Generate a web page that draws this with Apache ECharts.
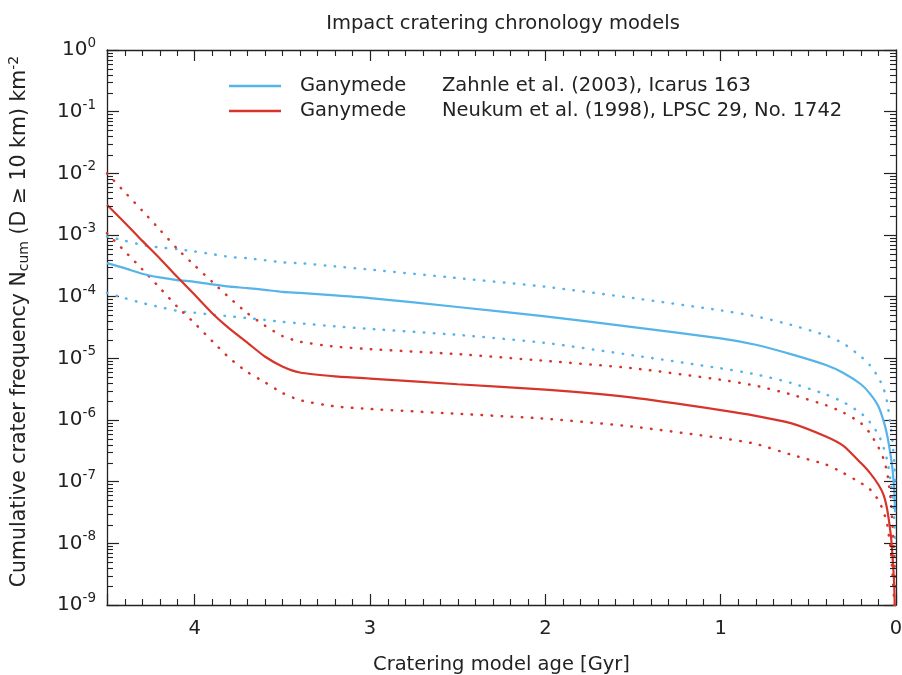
<!DOCTYPE html>
<html>
<head>
<meta charset="utf-8">
<script src="https://cdn.jsdelivr.net/npm/echarts@6/dist/echarts.min.js"></script>
<style>html,body{margin:0;padding:0;background:#fff}#c{width:902px;height:675px}</style>
</head>
<body>
<div id="c"></div>
<script>
// ---- data ----
const ages = [4.5, 4.4, 4.3, 4.2, 4.1, 4.0, 3.9, 3.8, 3.7, 3.6, 3.5, 3.4, 3.2, 3.0, 2.5, 2.0, 1.5, 1.0, 0.8, 0.6, 0.4, 0.3, 0.2, 0.15, 0.1, 0.07, 0.05, 0.03, 0.02, 0.01, 0.005];

const zahnle      = [3.5e-4, 2.9e-4, 2.35e-4, 2.05e-4, 1.86e-4, 1.74e-4, 1.58e-4, 1.45e-4, 1.38e-4, 1.29e-4, 1.2e-4, 1.15e-4, 1.05e-4, 9.5e-5, 6.8e-5, 4.8e-5, 3.2e-5, 2.1e-5, 1.66e-5, 1.17e-5, 7.8e-6, 5.8e-6, 3.8e-6, 2.7e-6, 1.66e-6, 9.5e-7, 5.6e-7, 2.6e-7, 1.6e-7, 7.1e-8, 3.2e-8];
const zahnleUpper = [9.5e-4, 8.1e-4, 6.9e-4, 6.3e-4, 5.9e-4, 5.4e-4, 4.9e-4, 4.4e-4, 4.2e-4, 3.9e-4, 3.6e-4, 3.5e-4, 3.1e-4, 2.75e-4, 2.0e-4, 1.45e-4, 9.5e-5, 6.0e-5, 4.8e-5, 3.5e-5, 2.35e-5, 1.74e-5, 1.07e-5, 7.8e-6, 4.9e-6, 3.2e-6, 1.9e-6, 7.9e-7, 4.5e-7, 2.0e-7, 1.0e-7];
const zahnleLower = [1.15e-4, 9.5e-5, 7.9e-5, 6.8e-5, 5.9e-5, 5.5e-5, 5.1e-5, 4.8e-5, 4.5e-5, 4.2e-5, 3.9e-5, 3.7e-5, 3.3e-5, 3.0e-5, 2.4e-5, 1.78e-5, 1.12e-5, 6.9e-6, 5.5e-6, 4.0e-6, 2.6e-6, 1.95e-6, 1.29e-6, 9.3e-7, 5.8e-7, 3.5e-7, 2.2e-7, 1.0e-7, 5.6e-8, 2.5e-8, 1.0e-8];

const neukum      = [3.1e-3, 1.6e-3, 8.1e-4, 4.2e-4, 2.1e-4, 1.07e-4, 5.4e-5, 3.0e-5, 1.8e-5, 1.07e-5, 7.4e-6, 5.9e-6, 5.1e-6, 4.7e-6, 3.8e-6, 3.1e-6, 2.3e-6, 1.45e-6, 1.17e-6, 8.9e-7, 5.4e-7, 3.8e-7, 2.0e-7, 1.4e-7, 8.9e-8, 6.0e-8, 3.5e-8, 1.4e-8, 6.3e-9, 2.0e-9, 5.0e-10];
const neukumUpper = [1.0e-2, 5.0e-3, 2.5e-3, 1.23e-3, 6.0e-4, 3.2e-4, 1.74e-4, 9.5e-5, 5.4e-5, 3.4e-5, 2.3e-5, 1.86e-5, 1.55e-5, 1.41e-5, 1.17e-5, 9.1e-6, 6.9e-6, 4.5e-6, 3.6e-6, 2.6e-6, 1.74e-6, 1.32e-6, 8.9e-7, 6.2e-7, 3.6e-7, 2.3e-7, 1.38e-7, 5.0e-8, 2.0e-8, 6.3e-9, 2.0e-9];
const neukumLower = [1.07e-3, 5.5e-4, 2.8e-4, 1.4e-4, 6.9e-5, 3.7e-5, 1.9e-5, 1.0e-5, 6.0e-6, 4.1e-6, 2.75e-6, 2.1e-6, 1.66e-6, 1.51e-6, 1.26e-6, 1.05e-6, 7.8e-7, 5.1e-7, 4.1e-7, 2.75e-7, 1.9e-7, 1.38e-7, 9.5e-8, 7.6e-8, 5.0e-8, 3.2e-8, 2.0e-8, 7.9e-9, 3.2e-9, 1.1e-9, 3.0e-10];

const xTicks = [0, 1, 2, 3, 4];
const yTickExponents = [-9, -8, -7, -6, -5, -4, -3, -2, -1, 0];
const legendBody = ['Ganymede', 'Ganymede'];
const legendRef = ['Zahnle et al. (2003), Icarus 163', 'Neukum et al. (1998), LPSC 29, No. 1742'];
const seriesNames = ['Zahnle', 'Neukum'];

const BLUE = '#56B4E9';
const RED = '#D7352B';
const INK = '#222';
const FONT = 'DejaVu Sans';

function pairs(vals) { return ages.map((a, i) => [a, vals[i]]); }

function solid(name, vals, color) {
  return { name, type: 'line', data: pairs(vals), symbol: 'none', showSymbol: false, smooth: 0.2,
    lineStyle: { color, width: 2.2 }, itemStyle: { color }, z: 4 };
}
function dotted(name, vals, color) {
  return { name, type: 'line', data: pairs(vals), symbol: 'none', showSymbol: false, smooth: 0.2,
    lineStyle: { color, width: 2.5, type: [0.5, 9.5], cap: 'round' }, itemStyle: { color }, z: 3 };
}

const chart = echarts.init(document.getElementById('c'), null, { renderer: 'canvas' });

const xBase = {
  type: 'value', min: 0, max: 4.5, interval: 1, inverse: true,
  axisLine: { show: true, onZero: false, lineStyle: { color: INK, width: 1.3 } },
  axisTick: { show: true, inside: true, length: 11, lineStyle: { color: INK, width: 1.2 } },
  splitLine: { show: false }
};
const yBase = {
  type: 'log', logBase: 10, min: 1e-9, max: 1, interval: 1,
  axisLine: { show: true, onZero: false, lineStyle: { color: INK, width: 1.3 } },
  axisTick: { show: true, inside: true, length: 12, lineStyle: { color: INK, width: 1.2 } },
  splitLine: { show: false }
};

const option = {
  backgroundColor: '#fff',
  animation: false,
  title: {
    text: 'Impact cratering chronology models', left: 498, top: 9, textAlign: 'center',
    textStyle: { fontFamily: FONT, fontSize: 19.5, fontWeight: 'normal', color: INK }
  },
  grid: { left: 107, right: 6, top: 50, bottom: 70, containLabel: false, outerBoundsMode: 'none' },
  legend: {
    left: 224, top: 71, orient: 'vertical', itemWidth: 52, itemHeight: 2.5, itemGap: 5,
    icon: 'rect',
    data: seriesNames,
    formatter: function (name) {
      const i = seriesNames.indexOf(name);
      return '{a|' + legendBody[i] + '}{b|' + legendRef[i] + '}';
    },
    textStyle: {
      fontFamily: FONT, fontSize: 19.5, color: INK,
      rich: {
        a: { fontFamily: FONT, fontSize: 19.5, color: INK, width: 142, lineHeight: 20, padding: [0, 0, 0, 14] },
        b: { fontFamily: FONT, fontSize: 19.5, color: INK, lineHeight: 20 }
      }
    }
  },
  xAxis: [
    Object.assign({}, xBase, {
      position: 'bottom',
      name: 'Cratering model age [Gyr]', nameLocation: 'middle', nameGap: 50,
      nameTextStyle: { fontFamily: FONT, fontSize: 19.5, color: INK },
      axisLabel: { show: true, margin: 14, fontFamily: FONT, fontSize: 19.5, color: INK,
        formatter: v => (xTicks.indexOf(v) >= 0 ? String(v) : '') }
    }),
    Object.assign({}, xBase, { position: 'top', axisLabel: { show: false } })
  ],
  yAxis: [
    Object.assign({}, yBase, {
      position: 'left',
      name: '{t|Cumulative crater frequency N}{sub|cum}{t| (D ≥ 10 km) km}{sup|-2}',
      nameLocation: 'middle', nameGap: 75,
      nameTextStyle: {
        fontFamily: FONT, fontSize: 20.5, color: INK, padding: [0, 0, 0, 12],
        rich: {
          t: { fontFamily: FONT, fontSize: 20.5, color: INK },
          sub: { fontFamily: FONT, fontSize: 14, color: INK, padding: [9, 0, 0, 0] },
          sup: { fontFamily: FONT, fontSize: 14, color: INK, padding: [0, 0, 11, 0] }
        }
      },
      axisLabel: {
        show: true, margin: 11,
        formatter: function (v) {
          const e = Math.round(Math.log10(v));
          return yTickExponents.indexOf(e) >= 0 ? '{b|10}{s|' + e + '}' : '';
        },
        rich: {
          b: { fontFamily: FONT, fontSize: 20, color: INK },
          s: { fontFamily: FONT, fontSize: 13.5, color: INK, padding: [0, 0, 13, 0] }
        }
      }
    }),
    Object.assign({}, yBase, { position: 'right', axisLabel: { show: false } })
  ],
  series: [
    solid('Zahnle', zahnle, BLUE),
    dotted('Zahnle upper', zahnleUpper, BLUE),
    dotted('Zahnle lower', zahnleLower, BLUE),
    solid('Neukum', neukum, RED),
    dotted('Neukum upper', neukumUpper, RED),
    dotted('Neukum lower', neukumLower, RED),
    {
      type: 'custom', silent: true, clip: false, z: 5, xAxisIndex: 0, yAxisIndex: 0,
      data: [[0, 1]],
      renderItem: function (params, api) {
        const cs = params.coordSys;
        const L = cs.x, R = cs.x + cs.width, T = cs.y, B = cs.y + cs.height;
        const kids = [];
        const st = { stroke: INK, lineWidth: 1.1 };
        for (let e = -9; e < 0; e++) {
          for (let m = 2; m <= 9; m++) {
            const y = Math.round(api.coord([0, m * Math.pow(10, e)])[1]) + 0.5;
            kids.push({ type: 'line', shape: { x1: L, y1: y, x2: L + 6, y2: y }, style: st });
            kids.push({ type: 'line', shape: { x1: R, y1: y, x2: R - 6, y2: y }, style: st });
          }
        }
        for (let k = 1; k < 45; k++) {
          if (k % 10 === 0) continue;
          const x = Math.round(api.coord([k / 10, 1e-5])[0]) + 0.5;
          kids.push({ type: 'line', shape: { x1: x, y1: B, x2: x, y2: B - 6 }, style: st });
          kids.push({ type: 'line', shape: { x1: x, y1: T, x2: x, y2: T + 6 }, style: st });
        }
        return { type: 'group', children: kids };
      }
    }
  ]
};
chart.setOption(option);
</script>
</body>
</html>
